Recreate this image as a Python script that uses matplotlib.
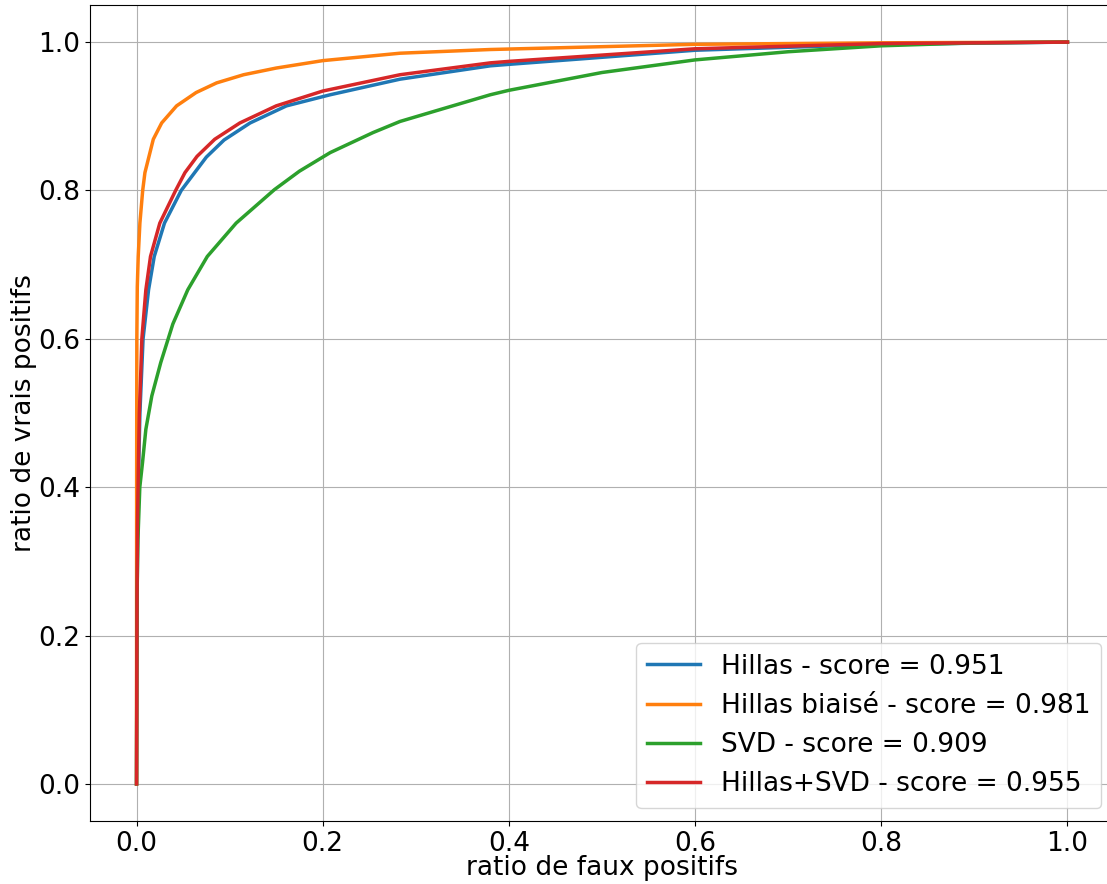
import matplotlib
matplotlib.use("Agg")
import matplotlib.pyplot as plt

# courbes ROC (fpr, tpr)
hillas_fpr = [0, 0.0005, 0.001, 0.002, 0.0036, 0.007, 0.0129, 0.019, 0.030, 0.048,
              0.060, 0.075, 0.094, 0.122, 0.161, 0.208, 0.283, 0.38, 0.4, 0.6, 0.8, 1.0]
hillas_tpr = [0, 0.22, 0.32, 0.41, 0.50, 0.60, 0.666, 0.711, 0.756, 0.80,
              0.82, 0.845, 0.868, 0.891, 0.914, 0.929, 0.950, 0.968, 0.970, 0.989, 0.997, 1.0]

biais_fpr = [0, 0.0001, 0.0003, 0.0008, 0.0018, 0.0036, 0.0066, 0.009, 0.018, 0.027,
             0.043, 0.064, 0.086, 0.115, 0.150, 0.2, 0.283, 0.38, 0.6, 0.8, 1.0]
biais_tpr = [0, 0.40, 0.60, 0.67, 0.711, 0.756, 0.80, 0.824, 0.869, 0.891,
             0.914, 0.932, 0.945, 0.956, 0.965, 0.975, 0.985, 0.990, 0.997, 0.999, 1.0]

svd_fpr = [0, 0.0002, 0.0005, 0.0015, 0.0035, 0.0064, 0.010, 0.0164, 0.026, 0.034,
           0.039, 0.055, 0.076, 0.107, 0.148, 0.175, 0.208, 0.254, 0.283, 0.326,
           0.38, 0.4, 0.5, 0.6, 0.7, 0.8, 0.9, 1.0]
svd_tpr = [0, 0.15, 0.25, 0.33, 0.40, 0.433, 0.478, 0.523, 0.568, 0.600,
           0.620, 0.666, 0.711, 0.756, 0.801, 0.826, 0.851, 0.878, 0.893, 0.909,
           0.929, 0.935, 0.959, 0.976, 0.987, 0.995, 0.999, 1.0]

hs_fpr = [0, 0.0005, 0.001, 0.002, 0.003, 0.0043, 0.0057, 0.010, 0.015, 0.025,
          0.042, 0.052, 0.065, 0.084, 0.111, 0.150, 0.2, 0.283, 0.38, 0.4, 0.6, 0.8, 1.0]
hs_tpr = [0, 0.25, 0.35, 0.43, 0.50, 0.545, 0.60, 0.666, 0.711, 0.756,
          0.80, 0.824, 0.846, 0.869, 0.891, 0.914, 0.934, 0.956, 0.972, 0.974, 0.991, 0.998, 1.0]

labels = ["Hillas - score = 0.951", "Hillas biaisé - score = 0.981",
          "SVD - score = 0.909", "Hillas+SVD - score = 0.955"]

fig = plt.figure(figsize=(11.07, 8.84), dpi=100)
ax = fig.add_axes([90 / 1107, 63 / 884, 1024 / 1107, 816 / 884])

ax.plot(hillas_fpr, hillas_tpr, color="tab:blue", lw=2.5, label=labels[0])
ax.plot(biais_fpr, biais_tpr, color="tab:orange", lw=2.5, label=labels[1])
ax.plot(svd_fpr, svd_tpr, color="tab:green", lw=2.5, label=labels[2])
ax.plot(hs_fpr, hs_tpr, color="tab:red", lw=2.5, label=labels[3])

ax.set_xlim(-0.05, 1.05)
ax.set_ylim(-0.05, 1.05)
ax.grid(True)
ax.tick_params(labelsize=19)
ax.set_xlabel("ratio de faux positifs", fontsize=19, labelpad=-1)
ax.set_ylabel("ratio de vrais positifs", fontsize=19, labelpad=1)
ax.legend(loc="lower right", fontsize=19)

fig.savefig("out.png")
